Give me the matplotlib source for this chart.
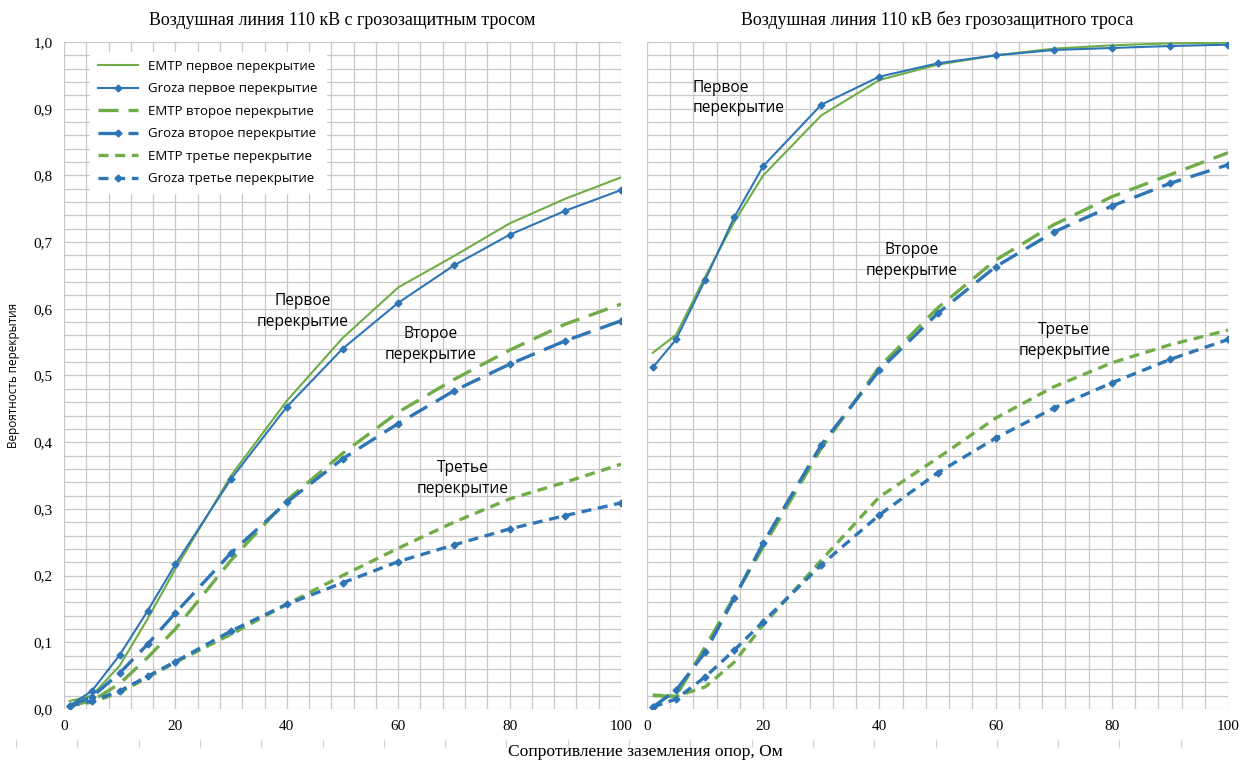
import numpy as np
import matplotlib.pyplot as plt

# Сопротивление заземления, Ом
r = [1, 5, 10, 15, 20, 30, 40, 50, 60, 70, 80, 90, 100]

# Линия с грозозащитным тросом
emtp_1_tros = [0.012, 0.02, 0.065, 0.135, 0.21, 0.35, 0.462, 0.556, 0.632, 0.679, 0.728, 0.765, 0.797]
groza_1_tros = [0.005, 0.027, 0.081, 0.147, 0.217, 0.345, 0.453, 0.540, 0.609, 0.665, 0.711, 0.747, 0.778]
emtp_2_tros = [0.005, 0.012, 0.038, 0.077, 0.12, 0.223, 0.313, 0.383, 0.445, 0.494, 0.538, 0.577, 0.607]
groza_2_tros = [0.005, 0.018, 0.054, 0.097, 0.144, 0.234, 0.310, 0.375, 0.428, 0.477, 0.517, 0.552, 0.582]
emtp_3_tros = [0.005, 0.01, 0.025, 0.047, 0.07, 0.112, 0.157, 0.200, 0.241, 0.280, 0.315, 0.340, 0.367]
groza_3_tros = [0.005, 0.012, 0.027, 0.049, 0.071, 0.117, 0.157, 0.189, 0.221, 0.246, 0.270, 0.290, 0.309]

# Линия без грозозащитного троса
emtp_1_bez = [0.534, 0.561, 0.648, 0.73, 0.80, 0.89, 0.943, 0.966, 0.980, 0.990, 0.995, 0.998, 0.999]
groza_1_bez = [0.512, 0.554, 0.643, 0.737, 0.814, 0.906, 0.948, 0.968, 0.980, 0.988, 0.991, 0.994, 0.996]
emtp_2_bez = [0.020, 0.019, 0.093, 0.168, 0.243, 0.391, 0.513, 0.601, 0.673, 0.726, 0.768, 0.801, 0.834]
groza_2_bez = [0.003, 0.028, 0.085, 0.166, 0.249, 0.396, 0.508, 0.593, 0.663, 0.715, 0.754, 0.788, 0.816]
emtp_3_bez = [0.021, 0.019, 0.033, 0.070, 0.126, 0.223, 0.318, 0.376, 0.436, 0.483, 0.519, 0.546, 0.568]
groza_3_bez = [0.003, 0.015, 0.048, 0.088, 0.131, 0.216, 0.291, 0.354, 0.406, 0.451, 0.489, 0.524, 0.554]

titles = ['Воздушная линия 110 кВ с грозозащитным тросом',
          'Воздушная линия 110 кВ без грозозащитного троса']
labels = ['EMTP первое перекрытие', 'Groza первое перекрытие',
          'EMTP второе перекрытие', 'Groza второе перекрытие',
          'EMTP третье перекрытие', 'Groza третье перекрытие']

GREEN = '#70AD47'
BLUE = '#2E75B6'
SERIF = 'Liberation Serif'
SANS = 'Open Sans'

fig = plt.figure(figsize=(12.41, 7.64), dpi=100)
ax_l = fig.add_axes([64 / 1241, 1 - 709 / 764, 557 / 1241, 667 / 764])
ax_r = fig.add_axes([647 / 1241, 1 - 709 / 764, 581 / 1241, 667 / 764])

dash2 = (6, 3)
dash3 = (3, 2)


def draw_panel(ax, e1, g1, e2, g2, e3, g3):
    ax.plot(r, e1, color=GREEN, lw=1.5)
    ax.plot(r, g1, color=BLUE, lw=1.5, marker='D', ms=3.5)
    ax.plot(r, e2, color=GREEN, lw=2.4, dashes=dash2)
    ax.plot(r, g2, color=BLUE, lw=2.4, dashes=dash2, marker='D', ms=3.5)
    ax.plot(r, e3, color=GREEN, lw=2.4, dashes=dash3)
    ax.plot(r, g3, color=BLUE, lw=2.4, dashes=dash3, marker='D', ms=3.5)

    ax.set_xlim(0, 100)
    ax.set_ylim(0, 1.0)
    ax.set_xticks(np.arange(0, 101, 20))
    ax.set_xticks(np.arange(0, 101, 4), minor=True)
    ax.set_yticks(np.arange(0, 1.01, 0.1))
    ax.set_yticks(np.arange(0, 1.01, 0.02), minor=True)
    ax.grid(True, which='both', color='#c8c8c8', lw=0.9)
    ax.set_axisbelow(True)
    for s in ax.spines.values():
        s.set_visible(False)
    ax.tick_params(which='both', length=0, labelsize=11, pad=8)
    for t in ax.get_xticklabels() + ax.get_yticklabels():
        t.set_fontfamily(SERIF)


draw_panel(ax_l, emtp_1_tros, groza_1_tros, emtp_2_tros, groza_2_tros, emtp_3_tros, groza_3_tros)
draw_panel(ax_r, emtp_1_bez, groza_1_bez, emtp_2_bez, groza_2_bez, emtp_3_bez, groza_3_bez)

ax_l.set_yticklabels([f'{v:.1f}'.replace('.', ',') for v in np.arange(0, 1.01, 0.1)],
                     fontfamily=SERIF)
ax_r.set_yticklabels([])

ax_l.set_title(titles[0], fontfamily=SERIF, fontsize=12.9, pad=12)
ax_r.set_title(titles[1], fontfamily=SERIF, fontsize=12.9, pad=12)

ax_l.set_ylabel('Вероятность перекрытия', fontfamily=SANS, fontsize=8.5, labelpad=10)
fig.text(0.52, 1 - 752 / 764, 'Сопротивление заземления опор, Ом',
         fontfamily=SERIF, fontsize=12.6, ha='center', va='center')

leg = ax_l.legend(labels, loc='upper left', bbox_to_anchor=(0.035, 0.995),
                  prop={'family': SANS, 'size': 9.5}, handlelength=3.0,
                  frameon=True, fancybox=False, edgecolor='white',
                  framealpha=1.0, labelspacing=0.72, borderpad=0.6)

ann_kw = dict(fontfamily=SANS, fontsize=11.2, ha='center', va='center', linespacing=1.4)
ax_l.text(42.8, 0.596, 'Первое\nперекрытие', **ann_kw)
ax_l.text(65.8, 0.546, 'Второе\nперекрытие', **ann_kw)
ax_l.text(71.5, 0.346, 'Третье\nперекрытие', **ann_kw)
ax_r.text(7.9, 0.916, 'Первое\nперекрытие', fontfamily=SANS, fontsize=11.2,
          ha='left', va='center', linespacing=1.4)
ax_r.text(45.6, 0.673, 'Второе\nперекрытие', **ann_kw)
ax_r.text(71.8, 0.553, 'Третье\nперекрытие', **ann_kw)

# faint tick strip at the bottom of the picture
ax_b = fig.add_axes([0, 1 - 747 / 764, 1, 0.0001])
ax_b.set_xlim(0, 1241)
ax_b.set_xticks(np.arange(16, 1241, 61.3))
ax_b.set_yticks([])
ax_b.tick_params(axis='x', direction='in', length=5, color='#d0d0d0', labelbottom=False)
for s in ax_b.spines.values():
    s.set_visible(False)
ax_b.patch.set_visible(False)

fig.savefig('out.png', dpi=100)
